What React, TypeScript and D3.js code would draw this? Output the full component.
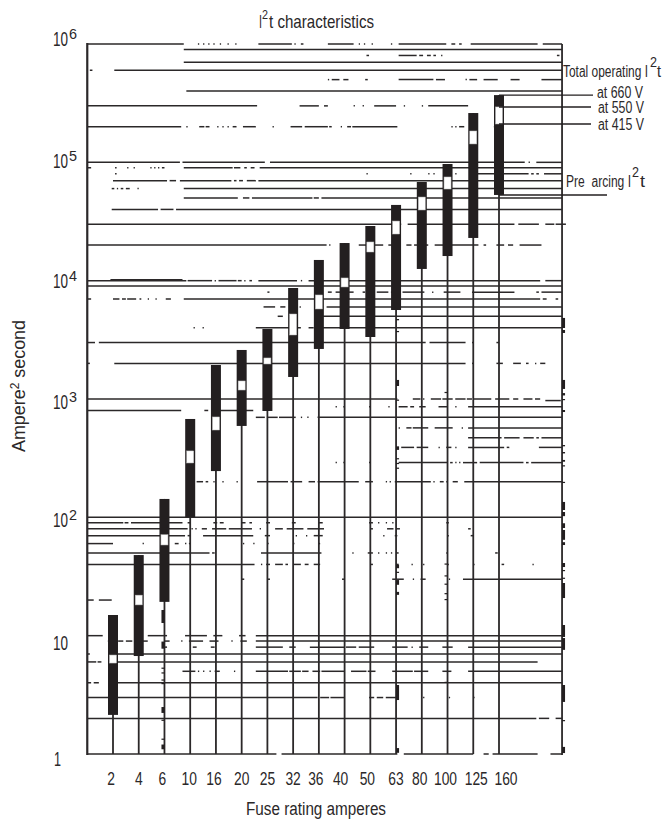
import React from "react";
import * as d3 from "d3";

const fuseRatings = ["2","4","6","10","16","20","25","32","36","40","50","63","80","100","125","160"];
const totalTop = [14.95,48,143,678,1938,2596,3908,8670,14960,20800,28970,43650,68200,96800,261000,370000];
const preArcBottom = [2.14,6.73,19.3,100,246,592,792,1535,2648,3908,3342,5650,12560,16150,22960,53000];
const midHigh = [6.86,22,71.3,364,705,1420,2222,5226,7570,10540,21230,31900,50900,75200,184000,293800];
const midLow = [5.87,18.2,58.4,288,547,1191,1977,3475,5766,8846,17470,24790,39570,59500,143000,210900];
const labelNudge = [-2,0,-2,-1,-2,0,0,0,-3,-4,-3,0,-2,-2,3,7];
const yTicks = [[1e6,"6",2],[1e5,"5",6],[1e4,"4",7],[1e3,"3",10],[1e2,"2",10]] as const;

// [value, [[fromCategoryIndex, toCategoryIndex], ...]] - the scanned log grid with its broken runs
const L = -1, R = 17.45;
const gridRuns: [number, number[][]][] = [
  [1e6,[[L,2.75],[3.3,3.35],[3.5,3.55],[3.7,3.75],[3.9,3.95],[4.15,4.2],[4.45,4.5],[4.75,4.8],[5.65,6.95],[7.05,7.1],[7.3,7.4],[8.35,9.35],[9.55,9.6],[9.75,9.8],[10.05,10.1],[10.8,10.85],[11.1,12.95],[13.15,13.3],[13.45,13.55],[13.9,16.5],[16.7,R]]],
  [9e5,[[2.75,R]]],
  [8e5,[[9.85,9.95],[11.1,11.8],[11.9,12.05],[12.2,12.35],[12.45,12.55],[12.75,12.8],[17.25,17.35]]],
  [7e5,[[2.75,R]]],
  [6e5,[[-.9,-.8],[.05,R]]],
  [5e5,[[8.35,8.4],[8.5,8.8],[8.95,9.15],[9.8,9.9],[11.1,12.45],[12.55,12.9],[13.7,13.75],[13.85,14.15],[14.4,14.95],[15.45,15.8],[16.65,R]]],
  [4e5,[[2.85,R]]],
  [3e5,[[L,5.6],[7.25,8],[8.2,8.35],[9.35,9.4],[9.7,9.75],[10.15,11],[11.3,11.35],[12,12.05],[12.25,13.8],[14.9,15]]],
  [2e5,[[L,2.65],[2.85,2.9],[3.35,3.55],[3.6,3.75],[4.05,4.1],[4.25,4.3],[4.45,4.5],[4.65,4.8],[5.05,5.55],[6.2,6.25],[6.9,7.35],[7.45,8.35],[8.4,8.5],[8.85,8.9],[9.1,9.25],[9.3,11.05],[13.15,13.2],[13.3,13.35],[13.45,13.65],[14.8,15]]],
  [1e5,[[L,2.6],[2.7,5.9],[6.1,16],[16.15,16.2],[16.45,R]]],
  [9e4,[[L,-.85],[.08,.14],[.55,.6],[.8,.85],[1.45,1.5],[1.6,1.65],[1.75,1.8],[1.9,2],[2.75,4.65],[4.7,4.95],[5.1,5.2],[5.35,5.5],[5.7,R]]],
  [8e4,[[.08,.14],[9.85,9.9],[11.55,11.6],[12.25,12.3],[12.45,12.5],[12.85,12.9],[13.3,13.35],[14.1,16.15],[16.25,16.35],[16.45,16.55],[16.75,R]]],
  [7e4,[[0,2.1],[2.2,2.45],[2.6,4.6],[4.7,4.8],[4.9,5.05],[5.2,5.55],[5.65,R]]],
  [6e4,[[-.05,.05],[.15,.2],[.3,.4],[.5,.65],[.95,1],[2.75,R]]],
  [5e4,[[2.75,4.85],[5.05,5.3],[5.4,7.75],[7.8,8],[8.1,R]]],
  [4e4,[[-.05,1.75],[1.85,2.35],[2.45,R]]],
  [3e4,[[L,11.2],[11.45,15.6],[15.75,16.55],[16.8,17.15],[17.2,17.6]]],
  [2e4,[[L,8.3],[8.4,8.45],[9.55,9.85],[9.9,10.5],[10.7,10.85],[11.4,11.6],[11.7,12.25],[12.5,12.85],[12.95,14.2],[14.4,14.5],[14.9,15.2],[15.35,15.55],[15.8,16.65]]],
  [1.02e4,[[-.1,2.7]]],
  [1e4,[[L,2.85],[2.9,3.85],[3.95,4],[4.1,4.8],[4.85,5],[5.1,5.15],[5.3,5.4],[5.65,7.15],[7.3,7.35],[7.6,16.6],[16.8,R]]],
  [9e3,[[L,R]]],
  [8e3,[[6,6.08],[8.35,8.5],[8.65,9.35],[9.7,9.8],[10.25,10.7],[10.8,10.9],[11,11.1],[11.25,12.1],[12.4,12.45],[12.85,13.5],[13.95,15.6],[16.45,16.55],[16.65,R]]],
  [7e3,[[L,-.85],[0,.25],[.35,.5],[.55,.9],[1.03,1.1],[1.35,1.4],[1.65,1.7],[2.05,2.25],[2.75,16.6],[16.7,16.85],[17.2,17.3]]],
  [6e3,[[5.85,6.3],[6.5,6.7],[7.25,7.3],[8.3,R]]],
  [5e3,[[6.4,6.6],[8,R]]],
  [4e3,[[3.13,3.18],[3.48,3.53],[5.55,7.3],[7.6,7.8],[8,R]]],
  [3e3,[[L,-.7],[-.55,12.15],[12.3,13.7],[13.95,14],[14.9,15]]],
  [2e3,[[L,-.9],[.05,13.7],[13.95,14],[14.9,15.15],[15.55,15.85],[16.05,16.15],[16.4,16.45],[16.6,16.8]]],
  [1e3,[[L,11.05],[11.65,11.95],[12.05,12.1],[12.35,12.75],[12.8,13.2],[13.3,13.7],[13.75,13.95],[14,14.7],[14.85,15.4],[15.55,15.75],[15.95,16.3],[16.4,16.6]]],
  [9.7e2,[[16.8,17.4]]],
  [8.6e2,[[8.65,8.7],[8.95,9],[9.95,10],[10.7,10.75],[11.1,11.45],[11.55,11.7],[11.9,12.15],[12.65,13],[13.3,13.35],[13.8,R]]],
  [8e2,[[L,2.65],[3.55,3.7],[4.15,5.45]]],
  [7e2,[[5.55,5.9],[6,6.4],[6.45,7.1],[7.3,7.35],[7.55,7.6],[7.95,R]]],
  [5.7e2,[[11.1,11.15],[11.4,11.6],[11.65,12.25],[12.5,13.2],[13.55,13.6],[13.8,R]]],
  [4.7e2,[[13.8,15.1],[15.2,15.8],[15.95,16.35],[16.45,16.55],[16.65,R]]],
  [3.9e2,[[11.2,11.7],[11.8,12.25],[12.65,12.7],[12.95,13.15],[13.3,13.35],[13.8,15.2],[15.3,15.4],[16.55,R]]],
  [2.9e2,[[8.65,8.7],[8.95,9],[9.95,10],[11.1,13],[13.1,13.2],[13.3,13.35],[13.45,13.5],[13.6,14.15],[14.25,15.95],[16.05,16.15],[16.25,R]]],
  [2e2,[[3.25,3.5],[3.6,3.7],[3.9,3.95],[4.25,4.3],[4.8,4.85],[5.6,6.8],[6.9,7.35],[7.6,7.85],[7.95,9.55],[9.8,10.1],[10.6,10.65],[10.75,10.8],[10.95,12.35],[12.45,12.5],[12.7,12.85],[12.95,13],[13.2,13.4],[13.65,R]]],
  [1e2,[[L,R]]],
  [90,[[L,.4],[.45,.6],[.7,2.7],[2.9,3],[3.9,4.05],[4.15,4.3],[5,5.15],[5.3,5.4],[5.95,6.1],[6.95,7.1],[8,8.15],[9.95,10.1],[10.3,10.35],[10.6,10.65],[10.85,10.9],[12.95,13.05]]],
  [80,[[L,2.9],[3.05,3.1],[3.2,3.25],[3.45,3.65],[3.85,4.4],[4.5,5.4],[5.7,5.75],[6.3,6.6],[6.75,7.4],[7.55,8.2],[10,10.1],[10.65,10.9],[11,11.15],[13.8,13.9]]],
  [70,[[L,2.8],[2.9,3],[3.5,5.45],[5.9,6.1],[7.1,7.15],[7.5,7.55],[7.8,8.15],[10.5,10.55],[10.95,11.05],[13,13.05],[13.9,14]]],
  [60,[[L,0],[1.15,1.2],[2.4,2.55],[2.8,2.85],[2.95,3],[5.05,5.1],[5.45,5.5],[6,6.05],[7,7.05],[8,8.05]]],
  [50,[[L,3.75],[3.85,3.95],[5.75,8.1],[9.3,9.35],[9.9,10.1],[10.3,10.35],[10.6,10.65],[10.8,10.85],[11,11.1],[12.95,13],[14.85,14.95]]],
  [40,[[L,5.5],[5.75,5.8],[5.95,6.1],[6.3,6.6],[6.7,6.8],[7,7.3],[7.45,7.6],[7.8,8.05],[10,10.1],[11,11.1],[11.6,11.65],[12.05,12.1],[13,13.05],[14,14.05],[15.1,15.2],[16.3,16.35]]],
  [30,[[5,5.1],[6,6.1],[8.9,9],[10.85,11.3],[11.65,11.7],[11.95,12.15],[13.05,13.1],[13.6,R]]],
  [20,[[L,-.75],[-.55,-.05]]],
  [10,[[L,-.4],[1.35,2.1],[2.8,3.65],[3.9,4.25],[4.9,5.15],[5.55,R]]],
  [9,[[-.2,-.15],[.2,.4],[.5,.75],[.9,.95],[1.15,1.35],[2,2.2],[2.65,2.7],[2.95,3.5],[3.75,4.1],[4.6,4.65],[4.95,5.2],[5.55,R]]],
  [8,[[2,2.1],[3.1,3.25],[3.8,3.95],[5.55,6.6],[6.85,7.1],[7.65,9],[9.05,9.45],[9.55,10.15],[10.85,11.45],[11.6,11.65],[11.9,12.25],[12.8,13.2],[13.8,R]]],
  [7,[[L,-.9],[0,R]]],
  [6,[[L,-.65],[-.6,-.45],[.05,16.5]]],
  [5,[[2.7,3.2],[3.3,3.35],[3.5,3.55],[3.75,3.8],[3.95,4.15],[4.7,4.75],[5.55,6.8],[6.85,7.3],[7.35,7.6],[7.75,8.05],[8.1,9],[9.25,9.85],[9.9,10.2],[10.85,11.65],[11.7,12.25],[12.8,13.15],[13.8,R]]],
  [4,[[L,-.85],[-.75,-.55],[0,R]]],
  [3,[[L,7.95],[8.05,8.4],[8.45,9],[9.95,10.15],[10.25,10.5],[10.6,11],[12.05,12.1],[13.05,13.1],[14,14.05]]],
  [2,[[L,16.45],[16.55,16.95],[17.2,R]]],
  [1,[[L,6.35],[6.55,11.05],[11.3,14],[14.4,14.6],[14.75,16.5],[17,R]]],
];

// Scan specks along verticals: [category index, side, [[low exponent, high exponent], ...]]
const specks: [number, number, number[][]][] = [
  [R,1,[[3.6,3.685],[3.558,3.583],[3.085,3.161],[3.03,3.05],[2.99,3],[2.89,2.907],[2.6,2.611],[2.54,2.552],[2.47,2.485],[2.43,2.44],[2.29,2.3],[2.062,2.13],[2.01,2.045],[1.91,1.95],[1.81,1.893],[1.766,1.79],[1.58,1.614],[1.545,1.555],[1.48,1.49],[1.318,1.445],[.989,1.09],[.88,.98],[.44,.583],[.28,.287],[.008,.06]]],
  [11,1,[[3.665,3.676],[3.565,3.575],[3.11,3.161],[2.985,2.995],[2.57,2.6],[2.495,2.5],[2.455,2.46],[2.415,2.42],[1.57,1.6],[1.53,1.54],[1.43,1.47],[1.345,1.37],[.456,.583],[.01,.05]]],
  [2,-1,[[1.107,1.217],[.89,.95],[.72,.73],[.68,.69],[.62,.63],[.59,.6],[.347,.397],[.285,.29],[.125,.13],[.04,.08]]],
  [13,-1,[[3.05,3.06],[1.6,1.61],[1.5,1.51],[1.43,1.44],[1.35,1.36],[1.3,1.31],[.6,.61]]],
];

const FONT = "'Liberation Sans', Arial, sans-serif";
const INK = "#2b2829";
const BAR = "#231f20";

const x = d3.scaleLinear().domain([0, 15]).range([113, 499]);
const y = d3.scaleLog().domain([1, 1e6]).range([754, 44]);

function T({ x: tx, y: ty, s, w, size, anchor }: { x: number; y: number; s: string; w?: number; size: number; anchor?: string }) {
  return (
    <text x={tx} y={ty} fontSize={size} textAnchor={anchor ?? "start"} fill={INK} fontFamily={FONT}
      textLength={w} lengthAdjust={w ? "spacingAndGlyphs" : undefined} style={{ whiteSpace: "pre" }}>{s}</text>
  );
}

export default function App() {
  const barW = 10, boxW = 7;
  return (
    <svg width={662} height={824} style={{ position: "absolute", left: 0, top: 0, background: "#fff" }}>
      {/* stems */}
      {fuseRatings.map((_, i) => (
        <line key={i} x1={x(i)} x2={x(i)} y1={y(1)} y2={y(totalTop[i])} stroke={INK} strokeWidth={1.8} />
      ))}
      {/* grid */}
      <g stroke={INK} strokeWidth={1.5}>
        {gridRuns.flatMap(([v, runs], a) =>
          runs.map(([p, q], b) => <line key={a + "-" + b} x1={x(p)} x2={x(q)} y1={y(v)} y2={y(v)} />)
        )}
      </g>
      {/* axes */}
      <line x1={x(L)} x2={x(L)} y1={y(1e6) - 1} y2={y(1) + 1} stroke={INK} strokeWidth={2.2} />
      <line x1={x(R)} x2={x(R)} y1={y(1e6)} y2={y(1) + 1} stroke={INK} strokeWidth={1.8} />
      {/* specks */}
      <g fill={BAR}>
        {specks.flatMap(([u, side, spans], a) =>
          spans.map(([lo, hi], b) => (
            <rect key={a + "-" + b} x={side > 0 ? x(u) : x(u) - 3} width={3}
              y={y(Math.pow(10, hi))} height={Math.max(1.2, y(Math.pow(10, lo)) - y(Math.pow(10, hi)))} />
          ))
        )}
      </g>
      {/* bars */}
      {fuseRatings.map((_, i) => (
        <g key={i}>
          <rect x={x(i) - barW / 2} width={barW} y={y(totalTop[i])} height={y(preArcBottom[i]) - y(totalTop[i])} fill={BAR} />
          <rect x={x(i) - boxW / 2} width={boxW} y={y(midHigh[i])} height={y(midLow[i]) - y(midHigh[i])} fill="#fff" stroke="#bbb" strokeWidth={0.5} />
        </g>
      ))}
      {/* leaders */}
      <g stroke={BAR} strokeWidth={1.4}>
        <line x1={x(15)} x2={593} y1={y(totalTop[15])} y2={y(totalTop[15])} />
        <line x1={x(15)} x2={591} y1={y(midHigh[15])} y2={y(midHigh[15])} />
        <line x1={x(15)} x2={591} y1={y(midLow[15])} y2={y(midLow[15])} />
        <line x1={x(15)} x2={607} y1={y(preArcBottom[15])} y2={y(preArcBottom[15])} />
      </g>
      {/* y ticks */}
      {yTicks.map(([v, e, drop]) => (
        <g key={e}>
          <T x={53} y={y(v) + drop} s="10" w={15} size={20} />
          <T x={69} y={y(v) + drop - 7} s={e} w={8} size={15} />
        </g>
      ))}
      <T x={53} y={650} s="10" w={15} size={20} />
      <T x={54} y={766} s="1" size={20} w={7} />
      {/* x ticks */}
      {fuseRatings.map((f, i) => (
        <T key={f} x={x(i) + labelNudge[i]} y={785} s={f} size={18.5} anchor="middle" w={f.length * 7.7} />
      ))}
      <T x={246} y={815} s="Fuse rating amperes" size={18} w={140} />
      <text transform="translate(25,452) rotate(-90)" fontSize={18} fill={INK} fontFamily={FONT} textLength={132} lengthAdjust="spacingAndGlyphs">
        <tspan>Ampere</tspan><tspan dy={-6} fontSize={12}>2</tspan><tspan dy={6}> second</tspan>
      </text>
      {/* title */}
      <T x={259} y={28} s="I" size={19} w={3} />
      <T x={262} y={19} s="2" size={13} w={6} />
      <T x={269} y={28} s="t characteristics" size={19} w={105} />
      {/* annotations */}
      <T x={563} y={77} s="Total operating I" size={16} w={85} />
      <T x={650} y={67} s="2" size={15} w={7} />
      <T x={657} y={77} s="t" size={16} w={4} />
      <T x={597} y={98} s="at 660 V" size={16} w={46} />
      <T x={598} y={113} s="at 550 V" size={16} w={46} />
      <T x={598} y={130} s="at 415 V" size={16} w={46} />
      <T x={566} y={187} s="Pre  arcing I" size={16} w={65} />
      <T x={632} y={177} s="2" size={15} w={7} />
      <T x={640} y={187} s="t" size={16} w={5} />
    </svg>
  );
}
